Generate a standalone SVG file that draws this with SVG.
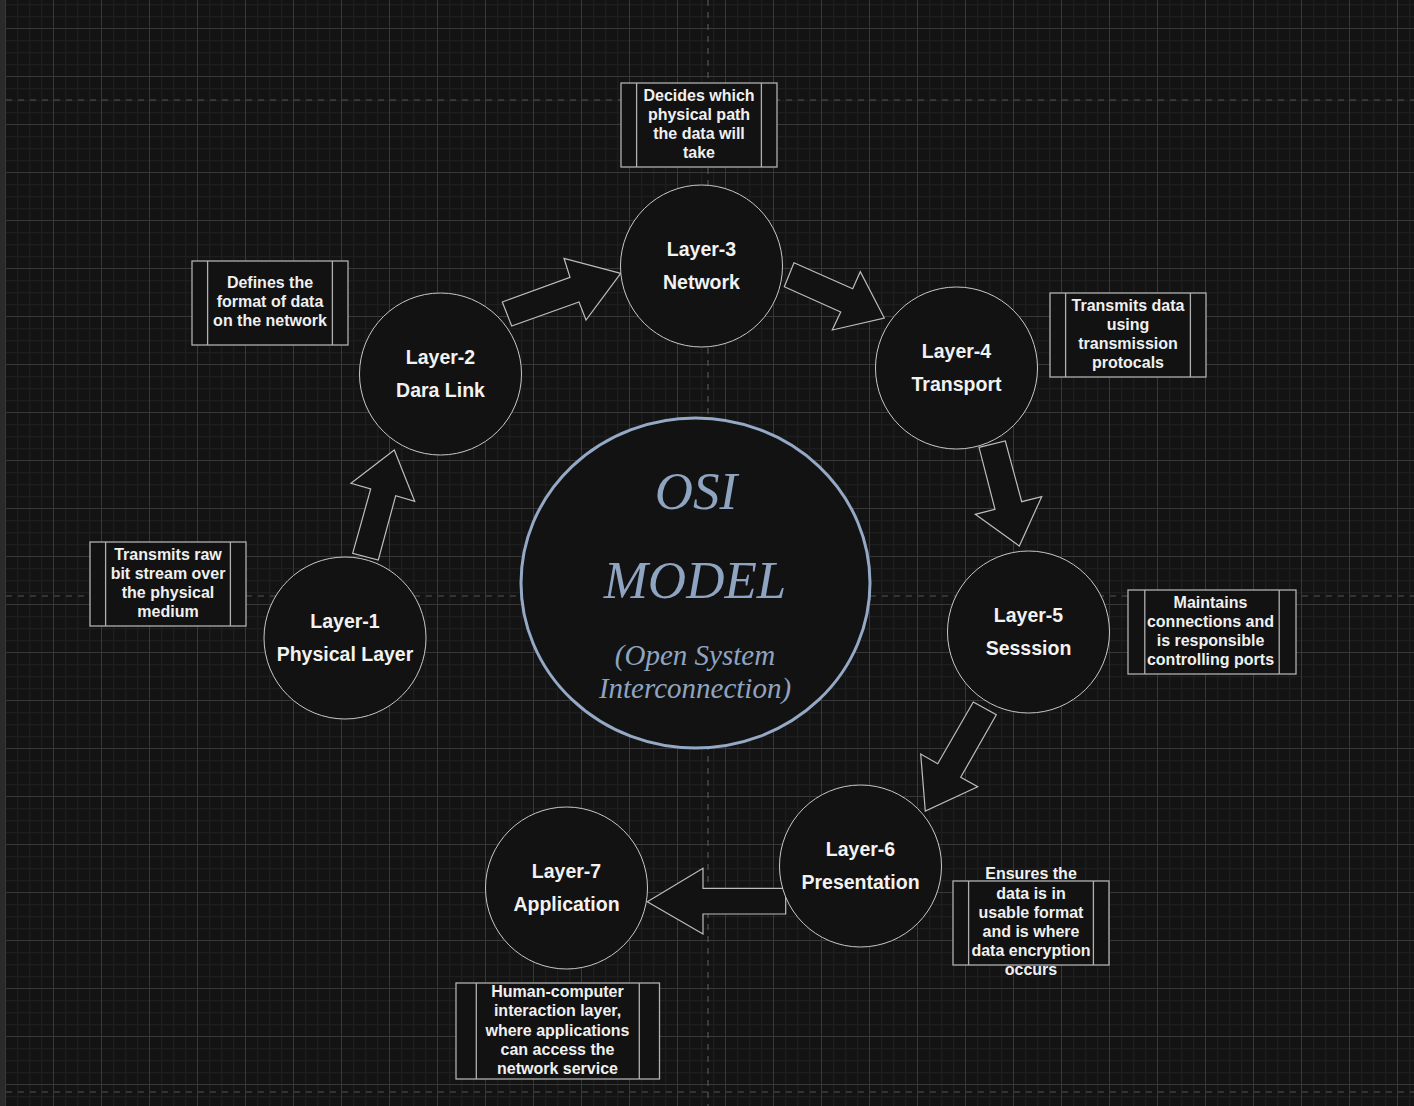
<svg xmlns="http://www.w3.org/2000/svg" width="1414" height="1106" viewBox="0 0 1414 1106">
<defs>
<pattern id="grid" patternUnits="userSpaceOnUse" x="5" y="28" width="48" height="48">
<rect x="0" y="0" width="48" height="48" fill="#131313"/>
<rect x="12" y="0" width="1.2" height="48" fill="#1e1e1e"/>
<rect x="24" y="0" width="1.2" height="48" fill="#1e1e1e"/>
<rect x="36" y="0" width="1.2" height="48" fill="#1e1e1e"/>
<rect x="0" y="12" width="48" height="1.2" fill="#1e1e1e"/>
<rect x="0" y="24" width="48" height="1.2" fill="#1e1e1e"/>
<rect x="0" y="36" width="48" height="1.2" fill="#1e1e1e"/>
<rect x="0" y="0" width="1" height="48" fill="#383838"/>
<rect x="0" y="0" width="48" height="1" fill="#383838"/>
</pattern>
<style>
.pg{stroke:#555;stroke-width:1.2;stroke-dasharray:6 6;fill:none}
.layer{fill:#121212;stroke:#c8c8c8;stroke-width:1}
.lt{font-family:"Liberation Sans",Arial,sans-serif;font-weight:bold;font-size:19.5px;fill:#f2f2f2;text-anchor:middle}
.box{fill:#121212;stroke:#b0b0b0;stroke-width:1.3}
.bl{stroke:#b0b0b0;stroke-width:1.3;fill:none}
.bt{font-family:"Liberation Sans",Arial,sans-serif;font-weight:bold;font-size:16px;fill:#f0f0f0;text-anchor:middle}
.arr{fill:#121212;stroke:#bdbdbd;stroke-width:1.2;stroke-linejoin:miter}
.ct{font-family:"Liberation Serif","Times New Roman",serif;font-style:italic;fill:#8ea4c0;text-anchor:middle}
</style>
</defs>
<rect x="0" y="0" width="1414" height="1106" fill="#131313"/>
<rect x="5" y="0" width="1409" height="1106" fill="url(#grid)"/>
<rect x="0" y="0" width="5" height="1106" fill="#2a2a2a"/>
<g id="page-lines">
<line class="pg" x1="6" y1="100" x2="1414" y2="100"/>
<line class="pg" x1="6" y1="596" x2="1414" y2="596"/>
<line class="pg" x1="6" y1="1092" x2="1414" y2="1092"/>
<line class="pg" x1="708" y1="0" x2="708" y2="1106"/>
</g>
<g id="connectors">
<polygon class="arr" points="394.3,450 351,483.3 370.7,489 352.7,553.3 378.3,560 395.7,495.7 414.7,501.3"/>
<polygon class="arr" points="620.7,273.3 564,258.3 570,277.3 502.3,302 511.7,326 579,302 586,320"/>
<polygon class="arr" points="794,262.7 852.7,288.7 860.3,271.7 884.3,318 832.3,330 840.7,312 784.3,286.7"/>
<polygon class="arr" points="979,447.3 1005.3,441 1021.7,501.7 1041.7,496.7 1019.3,546 975.3,514.3 995,509.3"/>
<polygon class="arr" points="973.3,702 996.3,714.7 960.7,777.3 977.7,786.7 925.3,811 920.7,754 937.7,763.7"/>
<polygon class="arr" points="647.3,901.7 703,868.3 703,888.3 785.7,888.3 785.7,914 703,914 703,934"/>
</g>
<g id="osi-model">
<ellipse cx="695.5" cy="583" rx="174.5" ry="165" fill="#121212" stroke="#94a9c5" stroke-width="3"/>
<text class="ct" x="696" y="509" font-size="53">OSI</text>
<text class="ct" x="695" y="598" font-size="53">MODEL</text>
<text class="ct" x="695" y="665" font-size="29">(Open System</text>
<text class="ct" x="695" y="698" font-size="29">Interconnection)</text>
</g>
<g id="layer-1">
<circle class="layer" cx="345" cy="638" r="81"/>
<text class="lt" x="345" y="628">Layer-1</text>
<text class="lt" x="345" y="661">Physical Layer</text>
</g>
<g id="layer-2">
<circle class="layer" cx="440.5" cy="374" r="81"/>
<text class="lt" x="440.5" y="364">Layer-2</text>
<text class="lt" x="440.5" y="397">Dara Link</text>
</g>
<g id="layer-3">
<circle class="layer" cx="701.5" cy="266" r="81"/>
<text class="lt" x="701.5" y="256">Layer-3</text>
<text class="lt" x="701.5" y="289">Network</text>
</g>
<g id="layer-4">
<circle class="layer" cx="956.5" cy="368" r="81"/>
<text class="lt" x="956.5" y="358">Layer-4</text>
<text class="lt" x="956.5" y="391">Transport</text>
</g>
<g id="layer-5">
<circle class="layer" cx="1028.5" cy="632" r="81"/>
<text class="lt" x="1028.5" y="622">Layer-5</text>
<text class="lt" x="1028.5" y="655">Sesssion</text>
</g>
<g id="layer-6">
<circle class="layer" cx="860.5" cy="866" r="81"/>
<text class="lt" x="860.5" y="856">Layer-6</text>
<text class="lt" x="860.5" y="889">Presentation</text>
</g>
<g id="layer-7">
<circle class="layer" cx="566.5" cy="888" r="81"/>
<text class="lt" x="566.5" y="878">Layer-7</text>
<text class="lt" x="566.5" y="911">Application</text>
</g>
<g id="desc-1">
<rect class="box" x="90" y="542" width="156" height="84"/>
<line class="bl" x1="105.6" y1="542" x2="105.6" y2="626"/>
<line class="bl" x1="230.4" y1="542" x2="230.4" y2="626"/>
<text class="bt" x="168" y="559.5">Transmits raw</text>
<text class="bt" x="168" y="578.7">bit stream over</text>
<text class="bt" x="168" y="597.9">the physical</text>
<text class="bt" x="168" y="617.1">medium</text>
</g>
<g id="desc-2">
<rect class="box" x="192" y="261" width="156" height="84"/>
<line class="bl" x1="207.6" y1="261" x2="207.6" y2="345"/>
<line class="bl" x1="332.4" y1="261" x2="332.4" y2="345"/>
<text class="bt" x="270" y="288">Defines the</text>
<text class="bt" x="270" y="307.2">format of data</text>
<text class="bt" x="270" y="326.4">on the network</text>
</g>
<g id="desc-3">
<rect class="box" x="621" y="83" width="156" height="84"/>
<line class="bl" x1="636.6" y1="83" x2="636.6" y2="167"/>
<line class="bl" x1="761.4" y1="83" x2="761.4" y2="167"/>
<text class="bt" x="699" y="100.5">Decides which</text>
<text class="bt" x="699" y="119.7">physical path</text>
<text class="bt" x="699" y="138.9">the data will</text>
<text class="bt" x="699" y="158.1">take</text>
</g>
<g id="desc-4">
<rect class="box" x="1050" y="293" width="156" height="84"/>
<line class="bl" x1="1065.6" y1="293" x2="1065.6" y2="377"/>
<line class="bl" x1="1190.4" y1="293" x2="1190.4" y2="377"/>
<text class="bt" x="1128" y="310.5">Transmits data</text>
<text class="bt" x="1128" y="329.7">using</text>
<text class="bt" x="1128" y="348.9">transmission</text>
<text class="bt" x="1128" y="368.1">protocals</text>
</g>
<g id="desc-5">
<rect class="box" x="1128" y="590" width="168" height="84"/>
<line class="bl" x1="1144.8" y1="590" x2="1144.8" y2="674"/>
<line class="bl" x1="1279.2" y1="590" x2="1279.2" y2="674"/>
<text class="bt" x="1210.5" y="607.5">Maintains</text>
<text class="bt" x="1210.5" y="626.7">connections and</text>
<text class="bt" x="1210.5" y="645.9">is responsible</text>
<text class="bt" x="1210.5" y="665.1">controlling ports</text>
</g>
<g id="desc-6">
<rect class="box" x="953" y="881" width="156" height="84"/>
<line class="bl" x1="968.6" y1="881" x2="968.6" y2="965"/>
<line class="bl" x1="1093.4" y1="881" x2="1093.4" y2="965"/>
<text class="bt" x="1031" y="879.3">Ensures the</text>
<text class="bt" x="1031" y="898.5">data is in</text>
<text class="bt" x="1031" y="917.7">usable format</text>
<text class="bt" x="1031" y="936.9">and is where</text>
<text class="bt" x="1031" y="956.1">data encryption</text>
<text class="bt" x="1031" y="975.3">occurs</text>
</g>
<g id="desc-7">
<rect class="box" x="456" y="983" width="203.5" height="96"/>
<line class="bl" x1="476.3" y1="983" x2="476.3" y2="1079"/>
<line class="bl" x1="639.3" y1="983" x2="639.3" y2="1079"/>
<text class="bt" x="557.5" y="997.1">Human-computer</text>
<text class="bt" x="557.5" y="1016.3">interaction layer,</text>
<text class="bt" x="557.5" y="1035.5">where applications</text>
<text class="bt" x="557.5" y="1054.7">can access the</text>
<text class="bt" x="557.5" y="1073.9">network service</text>
</g>
</svg>
